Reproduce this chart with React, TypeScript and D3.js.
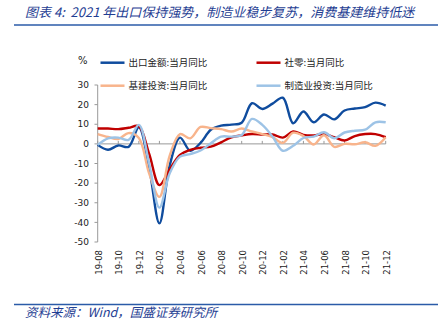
import React from "react";
import * as d3 from "d3";

const months = [
  "19-08", "19-09", "19-10", "19-11", "19-12", "20-01", "20-02", "20-03", "20-04", "20-05",
  "20-06", "20-07", "20-08", "20-09", "20-10", "20-11", "20-12", "21-01", "21-02", "21-03",
  "21-04", "21-05", "21-06", "21-07", "21-08", "21-09", "21-10", "21-11", "21-12",
];
const tickMonths = ["19-08", "19-10", "19-12", "20-02", "20-04", "20-06", "20-08", "20-10", "20-12", "21-02", "21-04", "21-06", "21-08", "21-10", "21-12"];
const yTicks = [30, 20, 10, 0, -10, -20, -30, -40, -50];

const exportYoY = [-0.5, -3, -0.8, -1.5, 8.5, -12, -40.5, -11, 3.2, -3.5, 0.5, 7.2, 9.3, 9.8, 10.8, 20.7, 17.8, 20.5, 23.5, 10.5, 16.5, 11, 15, 12.5, 17, 18, 18.7, 21, 19.5];
const retailYoY = [7.8, 7.8, 7.5, 8.2, 9, -5, -21, -13, -5.6, -3, -2, -1.4, 0.8, 3.3, 4.3, 5, 4.8, 4.8, 3.2, 6.3, 4.6, 4.3, 5, 3.4, 1.7, 4, 5, 5, 3.4];
const infraYoY = [5, 3.5, 2.5, 5.5, 3, -15, -27, -6, 5, 2.8, 8.6, 8, 7.5, 6.3, 7.8, 6.3, 5, 3.4, 0.5, 5.7, 4, -0.3, 4.4, -1.5, 0, -0.2, 0.8, -1, 3.4];
const mfgYoY = [-0.5, 2.8, 3.2, 2, 9.7, -10, -32.5, -15, -6.5, -5.2, -3.4, 0.3, 3.7, 3.7, 4.5, 12.7, 9.7, 3.7, -3.5, -1, 3, 3.7, 5.9, 2.9, 5.8, 6.7, 7.2, 11, 11];

const seriesNames = ["出口金额:当月同比", "社零:当月同比", "基建投资:当月同比", "制造业投资:当月同比"];
const seriesData = [exportYoY, retailYoY, infraYoY, mfgYoY];
const seriesColors = ["#0F4C9E", "#C00000", "#F8B48C", "#9DC3E6"];

const W = 438;
const H = 327;

export default function App() {
  const x = d3.scalePoint<string>().domain(months).range([97.7, 385.7]);
  const y = d3.scaleLinear().domain([-50, 30]).range([242, 85]);
  const line = d3
    .line<number>()
    .x((_, i) => x(months[i]) as number)
    .y((d) => y(d))
    .curve(d3.curveCatmullRom.alpha(0.5));

  const numFont = "'DejaVu Sans', sans-serif";
  const cjkFont = "'Noto Sans CJK SC', sans-serif";
  const titleColor = "#1F3E93";

  const legendPos = [
    { lx: 100.5, ly: 62.7 },
    { lx: 256.5, ly: 62.7 },
    { lx: 100.5, ly: 85.7 },
    { lx: 256.5, ly: 85.7 },
  ];

  return (
    <svg width={W} height={H} style={{ position: "absolute", left: 0, top: 0, background: "#fff" }}>
      <text x={25} y={17} fontFamily={cjkFont} fontSize={13} fontStyle="italic" fill={titleColor} style={{ whiteSpace: "pre" }}>
        {"图表 4:  2021 年出口保持强势，制造业稳步复苏，消费基建维持低迷"}
      </text>
      <line x1={14} x2={438} y1={25} y2={25} stroke="#2B5BA8" strokeWidth={1.5} />

      <text x={78} y={64} fontFamily={numFont} fontSize={10} fill="#222">%</text>

      {seriesNames.map((n, i) => (
        <g key={n}>
          <line x1={legendPos[i].lx} x2={legendPos[i].lx + 24} y1={legendPos[i].ly} y2={legendPos[i].ly} stroke={seriesColors[i]} strokeWidth={2.5} />
          <text x={legendPos[i].lx + 28} y={legendPos[i].ly} dy="0.35em" fontFamily={cjkFont} fontSize={9.5} fill="#222">
            {n}
          </text>
        </g>
      ))}

      {/* y axis */}
      <line x1={97.7} x2={97.7} y1={y(30)} y2={y(-50)} stroke="#999" strokeWidth={1} />
      {yTicks.map((t) => (
        <g key={t}>
          <line x1={94.5} x2={97.7} y1={y(t)} y2={y(t)} stroke="#999" strokeWidth={1} />
          <text x={89} y={y(t)} dy="0.35em" textAnchor="end" fontFamily={numFont} fontSize={9} fill="#222">
            {t}
          </text>
        </g>
      ))}

      {/* x axis at zero */}
      <line x1={97.7} x2={385.7} y1={y(0)} y2={y(0)} stroke="#999" strokeWidth={1} />
      {tickMonths.map((m) => (
        <line key={m} x1={x(m)} x2={x(m)} y1={y(0) - 3} y2={y(0)} stroke="#999" strokeWidth={1} />
      ))}
      {tickMonths.map((m) => (
        <text
          key={"l" + m}
          transform={`translate(${(x(m) as number) + 1},250) rotate(-90)`}
          textAnchor="end"
          dy="0.35em"
          fontFamily={numFont}
          fontSize={8.5}
          fill="#222"
        >
          {m}
        </text>
      ))}

      {seriesData.map((s, i) => (
        <path key={i} d={line(s) || ""} fill="none" stroke={seriesColors[i]} strokeWidth={2.4} strokeLinejoin="round" />
      ))}

      <line x1={14} x2={438} y1={304.5} y2={304.5} stroke="#2B5BA8" strokeWidth={1.5} />
      <text x={25} y={317} fontFamily={cjkFont} fontSize={12.5} fontStyle="italic" fill={titleColor}>
        资料来源：Wind，国盛证券研究所
      </text>
    </svg>
  );
}
